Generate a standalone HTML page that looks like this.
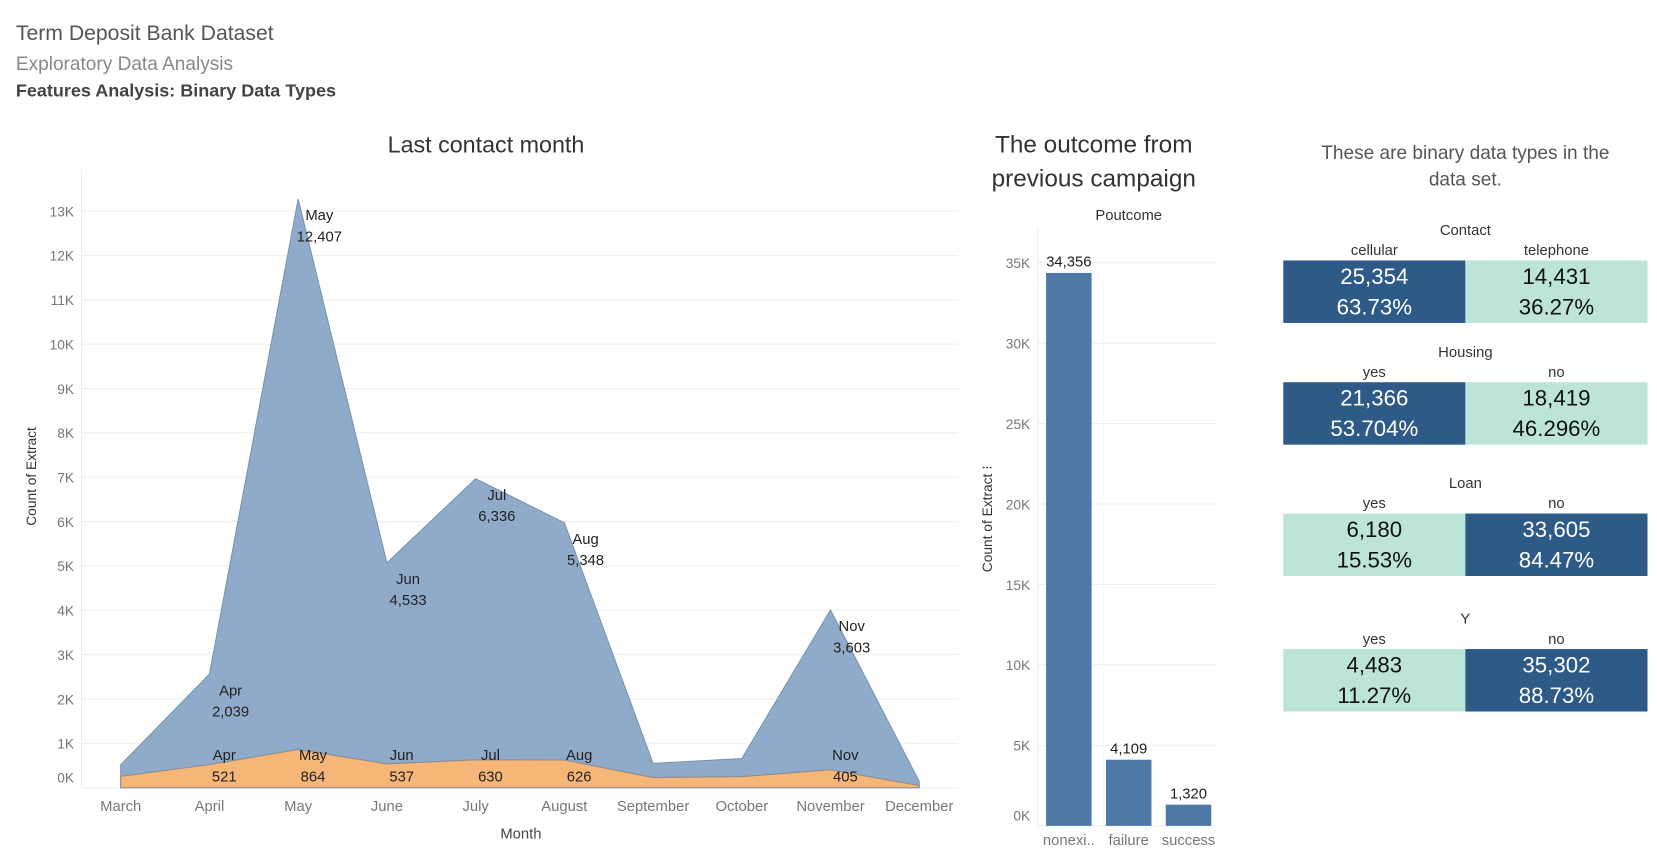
<!DOCTYPE html>
<html><head><meta charset="utf-8"><style>
html,body{margin:0;padding:0;background:#fff;overflow:hidden}
#root{position:absolute;left:0;top:0;width:1565px;height:813px;transform:scale(1.0588);transform-origin:0 0;font-family:"Liberation Sans",sans-serif}
.t{position:absolute;white-space:nowrap}
.cell{position:absolute;width:172px;height:59px;text-align:center;font-size:21px;line-height:29px;padding-top:1px;box-sizing:border-box}
.dk{background:#2e5a87;color:#fff}.lt{background:#bce4d8;color:#111}
.hd{position:absolute;font-size:14px;color:#333;text-align:center}
</style></head><body><div id="root">
<div class="t" style="left:15px;top:21px;font-size:20px;color:#555">Term Deposit Bank Dataset</div>
<div class="t" style="left:15px;top:50px;font-size:18px;color:#888">Exploratory Data Analysis</div>
<div class="t" style="left:15px;top:76px;font-size:17px;color:#444;font-weight:bold">Features Analysis: Binary Data Types</div>

<svg id="c1" style="position:absolute;left:0;top:110px" width="920" height="700" viewBox="0 110 920 700"></svg>
<svg id="c2" style="position:absolute;left:900px;top:110px" width="270" height="700" viewBox="900 110 270 700"></svg>

<div class="t" style="left:1229px;top:132px;width:310px;text-align:center;white-space:normal;font-size:18px;color:#555;line-height:25px">These are binary data types in the data set.</div>
<div id="tables"></div>

<script>
// ---- Chart 1 data ----
const months=["March","April","May","June","July","August","September","October","November","December"];
const noVals=[260,2039,12407,4533,6336,5348,320,410,3603,90];
const yesVals=[258,521,864,537,630,626,230,250,405,50];
const yTicks1=[0,1,2,3,4,5,6,7,8,9,10,11,12,13];
const labelled=[1,2,3,4,5,8];
const shortM=["Mar","Apr","May","Jun","Jul","Aug","Sep","Oct","Nov","Dec"];
// ---- Chart 2 data ----
const pcats=["nonexi..","failure","success"];
const pvals=[34356,4109,1320];
const yTicks2=[0,5,10,15,20,25,30,35];

const NS="http://www.w3.org/2000/svg";
function mk(svg,tag,attrs,txt){const e=document.createElementNS(NS,tag);for(const k in attrs)e.setAttribute(k,attrs[k]);if(txt!==undefined)e.textContent=txt;svg.appendChild(e);return e;}
const fmt=v=>v.toLocaleString('en-US');

// chart1
const s1=document.getElementById('c1');
const xs=i=>114+i*83.8, ys=v=>744-v*41.9/1000;
let e;
e=mk(s1,'text',{x:459,y:144,'text-anchor':'middle','font-size':22,fill:'#333'},'Last contact month');

yTicks1.forEach(k=>{
 e=mk(s1,'line',{x1:77,x2:905,y1:ys(k*1000),y2:ys(k*1000),stroke:'#eee'});
 
 e=mk(s1,'text',{x:70,y:k===0?739:ys(k*1000)+5,'text-anchor':'end','font-size':13,fill:'#777'},k+'K');
 
});
mk(s1,'line',{x1:77,x2:77,y1:160,y2:744,stroke:'#eee'});
const tot=noVals.map((v,i)=>v+yesVals[i]);
let p='M'+xs(0)+','+ys(0);tot.forEach((v,i)=>p+=' L'+xs(i)+','+ys(v));p+=' L'+xs(9)+','+ys(0)+'Z';
e=mk(s1,'path',{d:p,fill:'#90abc9',stroke:'#7892b3','stroke-width':1});

p='M'+xs(0)+','+ys(0);yesVals.forEach((v,i)=>p+=' L'+xs(i)+','+ys(v));p+=' L'+xs(9)+','+ys(0)+'Z';
e=mk(s1,'path',{d:p,fill:'#f5b678',stroke:'#8c8c8c','stroke-width':1});

labelled.forEach(i=>{
 const x=xs(i)+20,y=ys(tot[i]);
 e=mk(s1,'text',{x:x,y:y+20,'text-anchor':'middle','font-size':14,fill:'#222'},shortM[i]);
 
 e=mk(s1,'text',{x:x,y:y+40,'text-anchor':'middle','font-size':14,fill:'#222'},fmt(noVals[i]));
 
 e=mk(s1,'text',{x:xs(i)+14,y:718,'text-anchor':'middle','font-size':14,fill:'#222'},shortM[i]);
 
 e=mk(s1,'text',{x:xs(i)+14,y:738,'text-anchor':'middle','font-size':14,fill:'#222'},fmt(yesVals[i]));
 
});
months.forEach((m,i)=>{e=mk(s1,'text',{x:xs(i),y:766,'text-anchor':'middle','font-size':14,fill:'#777'},m);
 });
e=mk(s1,'text',{x:492,y:792,'text-anchor':'middle','font-size':14,fill:'#444'},'Month');

e=mk(s1,'text',{x:34,y:450,'text-anchor':'middle','font-size':13,fill:'#333',transform:'rotate(-90 34 450)'},'Count of Extract');


// chart2
const s2=document.getElementById('c2');
const y2=v=>780-v*76/5000, bx=i=>988+i*56.5;
e=mk(s2,'text',{x:1033,y:144,'text-anchor':'middle','font-size':23,fill:'#333'},'The outcome from');

e=mk(s2,'text',{x:1033,y:176,'text-anchor':'middle','font-size':23,fill:'#333'},'previous campaign');

e=mk(s2,'text',{x:1066,y:208,'text-anchor':'middle','font-size':14,fill:'#333'},'Poutcome');

yTicks2.forEach(k=>{
 e=mk(s2,'line',{x1:980,x2:1150,y1:y2(k*1000),y2:y2(k*1000),stroke:'#eee'});
 
 e=mk(s2,'text',{x:973,y:k===0?775:y2(k*1000)+5,'text-anchor':'end','font-size':13,fill:'#777'},k+'K');
 
});
mk(s2,'line',{x1:980,x2:980,y1:215,y2:780,stroke:'#eee'});
pvals.forEach((v,i)=>{
 e=mk(s2,'rect',{x:bx(i),y:y2(v),width:43,height:780-y2(v),fill:'#4e79a7'});
 
 e=mk(s2,'text',{x:bx(i)+21.5,y:y2(v)-6,'text-anchor':'middle','font-size':14,fill:'#222'},fmt(v));
 
 e=mk(s2,'text',{x:bx(i)+21.5,y:798,'text-anchor':'middle','font-size':14,fill:'#777'},pcats[i]);
 
});
e=mk(s2,'text',{x:937,y:490,'text-anchor':'middle','font-size':13,fill:'#333',transform:'rotate(-90 937 490)'},'Count of Extract ⁝');


// tables
const tabs=[
 {n:'Contact',top:209,l:['cellular','telephone'],v:[['25,354','63.73%'],['14,431','36.27%']],c:['dk','lt']},
 {n:'Housing',top:324,l:['yes','no'],v:[['21,366','53.704%'],['18,419','46.296%']],c:['dk','lt']},
 {n:'Loan',top:448,l:['yes','no'],v:[['6,180','15.53%'],['33,605','84.47%']],c:['lt','dk']},
 {n:'Y',top:576,l:['yes','no'],v:[['4,483','11.27%'],['35,302','88.73%']],c:['lt','dk']}];
const root=document.getElementById('root');
tabs.forEach(t=>{
 let d=document.createElement('div');d.className='hd';d.style.cssText='left:1212px;width:344px;top:'+t.top+'px';d.textContent=t.n;
 
 
 root.appendChild(d);
 [0,1].forEach(j=>{
  let h=document.createElement('div');h.className='hd';h.style.cssText='left:'+(1212+j*172)+'px;width:172px;top:'+(t.top+19)+'px';h.textContent=t.l[j];
  
  
  root.appendChild(h);
  let c=document.createElement('div');c.className='cell '+t.c[j];c.style.left=(1212+j*172)+'px';c.style.top=(t.top+37)+'px';
  c.innerHTML=t.v[j][0]+'<br>'+t.v[j][1];
  
  
  root.appendChild(c);
 });
});
</script>
</div></body></html>
